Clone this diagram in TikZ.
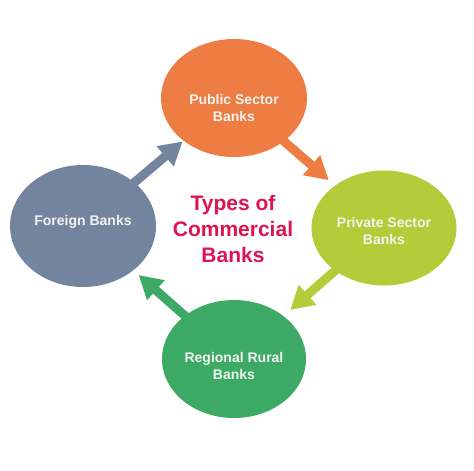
\documentclass[tikz,border=0pt]{standalone}
\usepackage{fontspec}
\setmainfont{Liberation Sans}
\usetikzlibrary{arrows.meta,shapes.geometric,backgrounds}
\definecolor{pubc}{HTML}{EE7D44}
\definecolor{privc}{HTML}{B4CC3A}
\definecolor{regc}{HTML}{3CAA64}
\definecolor{forc}{HTML}{73859E}
\definecolor{ttlc}{HTML}{DC1452}
\definecolor{txtc}{HTML}{F2F2F0}
\tikzset{
  bubble/.style={ellipse, draw=none, inner sep=0pt},
  btxt/.style={font=\bfseries\fontsize{14}{17}\selectfont, text=txtc, align=center},
  ttl/.style={font=\bfseries\fontsize{21}{26}\selectfont, text=ttlc, align=center},
  flow/.style={line width=9pt, -{Triangle[width=25pt,length=23pt]}, shorten <=-8pt},
}

\begin{document}
\begin{tikzpicture}[x=1pt,y=-1pt]
\useasboundingbox (0,0) rectangle (474,471);

% The four kinds of bank, one bubble each.
\node[bubble, fill=pubc, minimum width=146pt, minimum height=118pt] (pub) at (234,98) {};
\node[btxt] at ([yshift=-10pt]pub.center) {Public Sector\\Banks};
\node[bubble, fill=privc, minimum width=145pt, minimum height=115pt] (priv) at (384,228) {};
\node[btxt] at ([yshift=-3pt]priv.center) {Private Sector\\Banks};
\node[bubble, fill=regc, minimum width=144pt, minimum height=118pt] (reg) at (234,359) {};
\node[btxt] at ([yshift=-7pt]reg.center) {Regional Rural\\Banks};
\node[bubble, fill=forc, minimum width=146pt, minimum height=122pt] (for) at (83,226) {};
\node[btxt] at ([yshift=4pt]for.center) {Foreign Banks};

% Arrows going round, clockwise, behind the bubbles.
\begin{scope}[on background layer]
\draw[flow, pubc, shorten >=8pt] (pub) -- (priv);
\draw[flow, privc, shorten >=9pt] (priv) -- (reg);
\draw[flow, regc, shorten >=7pt] (reg) -- (for);
\draw[flow, forc, shorten >=1pt] (for) -- (pub);
\end{scope}

% Title in the middle.
\node[ttl] (title) at (233,229) {Types of\\Commercial\\Banks};

\end{tikzpicture}
\end{document}
